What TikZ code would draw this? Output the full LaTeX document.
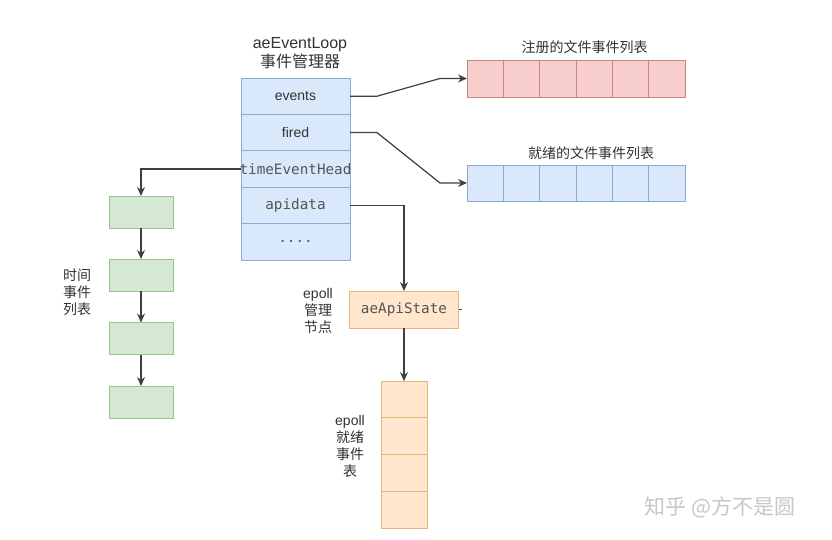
\documentclass[tikz,border=0pt]{standalone}
\usepackage{fontspec}
\setmainfont{Liberation Sans}
\newfontfamily\cjk{Noto Sans CJK SC}
\newfontfamily\monof{DejaVu Sans Mono}
\usetikzlibrary{arrows.meta}
\definecolor{blueF}{HTML}{DAE8FC}
\definecolor{blueD}{HTML}{8FA8CF}
\definecolor{redF}{HTML}{F8CECC}
\definecolor{redD}{HTML}{C98583}
\definecolor{greenF}{HTML}{D5E8D4}
\definecolor{greenD}{HTML}{9DC48B}
\definecolor{orangeF}{HTML}{FFE6CC}
\definecolor{orangeD}{HTML}{E0B978}
\definecolor{lineC}{HTML}{404040}
\definecolor{txtC}{HTML}{333333}
\definecolor{monoC}{HTML}{555555}
\begin{document}
\begin{tikzpicture}[x=1pt,y=-1pt,
  cellbase/.style={draw, line width=0.9pt, inner sep=0pt, outer sep=0pt, text=txtC},
  loopcell/.style={cellbase, fill=blueF, draw=blueD, minimum width=109pt, minimum height=36.4pt, font=\fontsize{14}{16}\selectfont},
  monotxt/.style={font=\monof\fontsize{14.3}{16}\selectfont, text=monoC},
  regcell/.style={cellbase, fill=redF, draw=redD, minimum width=36.33pt, minimum height=37pt},
  rdycell/.style={cellbase, fill=blueF, draw=blueD, minimum width=36.33pt, minimum height=36pt},
  grncell/.style={cellbase, fill=greenF, draw=greenD, minimum width=64pt, minimum height=32pt},
  orgcell/.style={cellbase, fill=orangeF, draw=orangeD, minimum width=46pt, minimum height=36.75pt},
  lbl/.style={text=txtC, align=center, inner sep=0pt, font=\fontsize{14}{17}\selectfont},
  arr/.style={draw=lineC, line width=1.2pt, -{Stealth[length=9pt,width=8pt,inset=3pt]}},
]
\useasboundingbox (0,0) rectangle (832,540);
\fill[white] (0,0) rectangle (832,540);

% title
\node[lbl, font=\fontsize{16}{19}\selectfont] (title) at (300,53) {aeEventLoop\\{\cjk 事件管理器}};

% aeEventLoop cells
\node[loopcell] (ev) at (295.5,96.2) {events};
\node[loopcell] (fi) at (295.5,132.6) {fired};
\node[loopcell, monotxt] (te) at (295.5,169) {\makebox[0pt][c]{timeEventHead}};
\node[loopcell, monotxt] (ap) at (295.5,205.4) {apidata};
\node[loopcell, monotxt] (dt) at (295.5,241.8) {....};

% registered list
\node[lbl] (reglbl) at (584.5,47) {\cjk 注册的文件事件列表};
\foreach \i in {1,...,6} {
  \node[regcell] (r\i) at ({467+36.33*(\i-0.5)},78.5) {};
}
% ready list
\node[lbl] (rdylbl) at (591,153) {\cjk 就绪的文件事件列表};
\foreach \i in {1,...,6} {
  \node[rdycell] (b\i) at ({467+36.33*(\i-0.5)},183) {};
}

% time events
\node[grncell] (g1) at (141,212) {};
\node[grncell] (g2) at (141,275) {};
\node[grncell] (g3) at (141,338.5) {};
\node[grncell] (g4) at (141,402) {};
\node[lbl] (tlbl) at (77,292) {{\cjk 时间}\\{\cjk 事件}\\{\cjk 列表}};

% aeApiState
\node[cellbase, fill=orangeF, draw=orangeD, minimum width=109pt, minimum height=37pt, monotxt] (as) at (404,309.5) {aeApiState};
\node[lbl] (eplbl) at (318,310.5) {epoll\\{\cjk 管理}\\{\cjk 节点}};

% epoll ready column
\node[orgcell] (c1) at (404,399.5) {};
\node[orgcell] (c2) at (404,436.25) {};
\node[orgcell] (c3) at (404,473) {};
\node[orgcell] (c4) at (404,509.75) {};
\node[lbl] (erlbl) at (350,446) {epoll\\{\cjk 就绪}\\{\cjk 事件}\\{\cjk 表}};

% connectors
\draw[arr] (ev.east) -- ++(27,0) -- ([xshift=-27pt]r1.west) -- (r1.west);
\draw[arr] (fi.east) -- ++(27,0) -- ([xshift=-27pt]b1.west) -- (b1.west);
\draw[arr] (te.west) -| (g1.north);
\draw[arr] (g1.south) -- (g2.north);
\draw[arr] (g2.south) -- (g3.north);
\draw[arr] (g3.south) -- (g4.north);
\draw[arr] (ap.east) -| (as.north);
\draw[arr] (as.south) -- (c1.north);
\coordinate (stub) at ([xshift=3pt]as.east);
\draw[draw=lineC, line width=0.8pt] (as.east) -- (stub);

% watermark
\node[text=black!22, inner sep=0pt, font=\cjk\fontsize{21}{24}\selectfont] (wm) at (720,507) {知乎 @方不是圆};
\end{tikzpicture}
\end{document}
